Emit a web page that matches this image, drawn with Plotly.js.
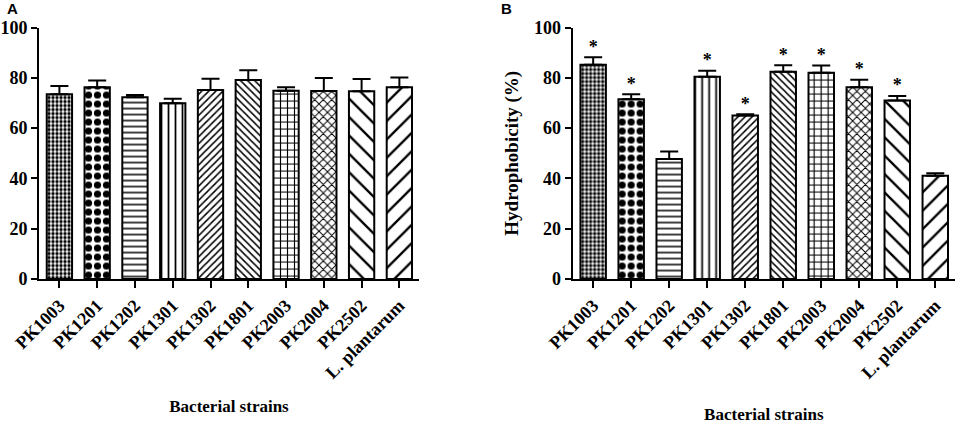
<!DOCTYPE html>
<html>
<head>
<meta charset="utf-8">
<script src="https://cdn.plot.ly/plotly-3.0.1.min.js"></script>
<style>
  html, body { margin: 0; padding: 0; background: #ffffff; }
  #chart { width: 956px; height: 424px; }
</style>
</head>
<body>
<div id="chart"></div>
<script>
// strains on the x axis of both panels
var strains = ['PK1003', 'PK1201', 'PK1202', 'PK1301', 'PK1302', 'PK1801', 'PK2003', 'PK2004', 'PK2502', 'L. plantarum'];

// panel A values and SD
var valuesA = [73.5, 76.3, 72.3, 69.9, 75.2, 79.1, 74.9, 74.8, 74.7, 76.3];
var errorsA = [3.3, 2.6, 0.9, 1.8, 4.4, 3.9, 1.4, 5.1, 4.8, 3.8];

// panel B hydrophobicity (%) and SD
var valuesB = [85.2, 71.5, 47.7, 80.4, 65.0, 82.4, 82.0, 76.3, 71.0, 41.1];
var errorsB = [3.0, 2.0, 3.0, 2.4, 0.5, 2.6, 2.9, 2.9, 1.8, 1.0];
var signifB = ['*', '*', '', '*', '*', '*', '*', '*', '*', ''];

// hatch fill used for each strain
var shapes = ['.', '.', '-', '|', '/', '\\', '+', 'x', '\\', '/'];
var sizes = [4, 9, 6, 7, 5, 5, 7, 6, 13, 13];
var solid = [0.55, 0.5, 0.25, 0.25, 0.3, 0.3, 0.3, 0.3, 0.18, 0.18];

var serif = 'Liberation Serif';

function barTrace(vals, errs, xa, ya) {
    return {
        x: strains,
        y: vals,
        xaxis: xa,
        yaxis: ya,
        type: 'bar',
        width: 0.67,
        marker: {
            color: '#ffffff',
            line: { color: '#000000', width: 2 },
            pattern: { shape: shapes, size: sizes, solidity: solid, fgcolor: '#000000', bgcolor: '#ffffff' }
        },
        error_y: { type: 'data', array: errs, symmetric: false, arrayminus: vals.map(function () { return 0; }), color: '#000000', thickness: 2, width: 9 },
        hoverinfo: 'x+y',
        showlegend: false
    };
}

var starTrace = {
    x: strains,
    y: valuesB.map(function (v, i) { return v + errorsB[i]; }),
    xaxis: 'x2',
    yaxis: 'y2',
    type: 'scatter',
    mode: 'text',
    text: signifB,
    textposition: 'top center',
    textfont: { family: serif, size: 18, color: '#000000', weight: 'bold' },
    hoverinfo: 'skip',
    showlegend: false
};

function xAxis(domain, anchor, standoff) {
    return {
        domain: domain,
        anchor: anchor,
        type: 'category',
        range: [-0.54, 9.52],
        showline: true,
        linecolor: '#000000',
        linewidth: 2,
        ticks: 'outside',
        ticklen: 7,
        tickwidth: 2,
        tickcolor: '#000000',
        tickangle: -45,
        tickfont: { family: serif, size: 18, color: '#000000', weight: 'bold' },
        showgrid: false,
        zeroline: false,
        automargin: false,
        title: {
            text: 'Bacterial strains',
            font: { family: serif, size: 17, color: '#000000', weight: 'bold' },
            standoff: standoff
        }
    };
}

function yAxis(anchor, titleText) {
    return {
        domain: [0.342, 0.935],
        anchor: anchor,
        range: [0, 100],
        dtick: 20,
        showline: true,
        linecolor: '#000000',
        linewidth: 2,
        ticks: 'outside',
        ticklen: 6,
        tickwidth: 2,
        tickcolor: '#000000',
        tickfont: { family: serif, size: 18, color: '#000000', weight: 'bold' },
        showgrid: false,
        zeroline: false,
        automargin: false,
        title: {
            text: titleText,
            font: { family: serif, size: 19, color: '#000000', weight: 'bold' },
            standoff: 10
        }
    };
}

var layout = {
    width: 956,
    height: 424,
    margin: { l: 0, r: 0, t: 0, b: 0 },
    paper_bgcolor: '#ffffff',
    plot_bgcolor: '#ffffff',
    bargap: 0.33,
    xaxis: xAxis([0.0408, 0.4383], 'y', 18),
    yaxis: yAxis('x', ''),
    xaxis2: xAxis([0.599, 0.999], 'y2', 30),
    yaxis2: yAxis('x2', 'Hydrophobicity (%)'),
    annotations: [
        { text: 'A', xref: 'paper', yref: 'paper', x: 0.0131, y: 0.981, xanchor: 'center', yanchor: 'middle', showarrow: false, font: { family: 'Liberation Sans', size: 15, color: '#000000', weight: 'bold' } },
        { text: 'B', xref: 'paper', yref: 'paper', x: 0.5293, y: 0.981, xanchor: 'center', yanchor: 'middle', showarrow: false, font: { family: 'Liberation Sans', size: 15, color: '#000000', weight: 'bold' } }
    ]
};

var data = [
    barTrace(valuesA, errorsA, 'x', 'y'),
    barTrace(valuesB, errorsB, 'x2', 'y2'),
    starTrace
];

Plotly.newPlot('chart', data, layout, { displayModeBar: false, staticPlot: true });
</script>
</body>
</html>
